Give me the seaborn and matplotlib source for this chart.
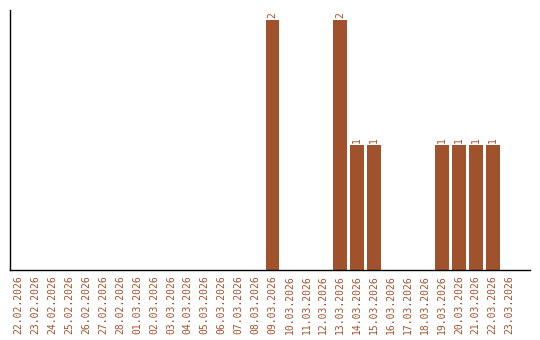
import matplotlib
matplotlib.use("Agg")
import matplotlib.pyplot as plt
import seaborn as sns
import pandas as pd

dates = ["22.02.2026", "23.02.2026", "24.02.2026", "25.02.2026", "26.02.2026",
         "27.02.2026", "28.02.2026", "01.03.2026", "02.03.2026", "03.03.2026",
         "04.03.2026", "05.03.2026", "06.03.2026", "07.03.2026", "08.03.2026",
         "09.03.2026", "10.03.2026", "11.03.2026", "12.03.2026", "13.03.2026",
         "14.03.2026", "15.03.2026", "16.03.2026", "17.03.2026", "18.03.2026",
         "19.03.2026", "20.03.2026", "21.03.2026", "22.03.2026", "23.03.2026"]
counts = [0, 0, 0, 0, 0, 0, 0, 0, 0, 0,
          0, 0, 0, 0, 0, 2, 0, 0, 0, 2,
          1, 1, 0, 0, 0, 1, 1, 1, 1, 0]

df = pd.DataFrame({"date": dates, "count": counts})
color = "#A0522D"

sns.set_style("white")
plt.rcParams['font.family'] = ['DejaVu Sans Mono', 'DejaVu Sans']

fig = plt.figure(figsize=(5.4, 3.4), dpi=100)
ax = fig.add_axes([10/540, 70/340, 520/540, 260/340])
sns.barplot(data=df, x="date", y="count", color=color, saturation=1, width=0.82,
            linewidth=0, edgecolor=color, ax=ax)

for i, v in enumerate(counts):
    if v > 0:
        ax.text(i, v + 0.02, str(v), rotation=90, ha="center", va="bottom",
                fontsize=7, color=color)

ax.set_xlim(-0.5, 30.2)
ax.set_ylim(0, 2.08)
ax.set_xlabel("")
ax.set_ylabel("")
ax.set_yticks([])
ax.tick_params(axis="x", length=0, pad=4, labelsize=7, labelcolor=color, rotation=90)
for s in ["top", "right"]:
    ax.spines[s].set_visible(False)
for s in ["left", "bottom"]:
    ax.spines[s].set_color("black")
    ax.spines[s].set_linewidth(1)

fig.savefig("out.png", dpi=100)
